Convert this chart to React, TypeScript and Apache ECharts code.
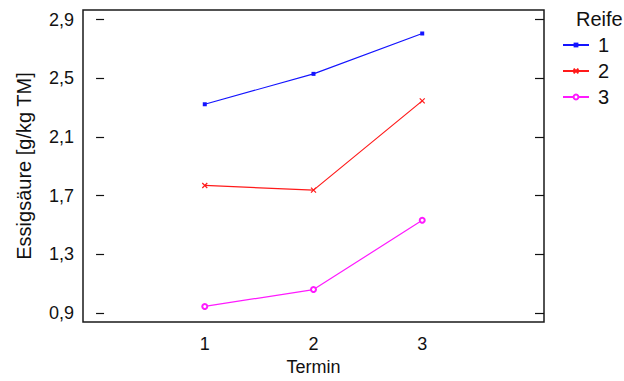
import React, { useEffect, useRef } from "react";
import * as echarts from "echarts";

// Measurement dates (x) and acetic acid content per ripeness group
const termin = [1, 2, 3];
const reife1 = [2.323, 2.53, 2.805];
const reife2 = [1.77, 1.738, 2.346];
const reife3 = [0.946, 1.061, 1.533];
const reifeNames = ["1", "2", "3"];
const yTicks = [0.9, 1.3, 1.7, 2.1, 2.5, 2.9];
const xTicks = [1, 2, 3];

const FONT = "'Liberation Sans', Arial, Helvetica, sans-serif";

const pairs = (ys: number[]) => termin.map((x, i) => [x, ys[i]]);

export default function App() {
  const ref = useRef<HTMLDivElement>(null);

  useEffect(() => {
    if (!ref.current) return;
    const chart = echarts.init(ref.current, null, { renderer: "svg" });
    const yLabel = (v: number) => v.toFixed(1).replace(".", ",");
    const tickStyle = { color: "#111", width: 1.2 };

    chart.setOption({
      animation: false,
      backgroundColor: "#fff",
      textStyle: { fontFamily: FONT },
      grid: {
        left: 83,
        right: 80,
        top: 10,
        bottom: 59,
        show: true,
        borderColor: "#1a1a1a",
        borderWidth: 1.5,
        backgroundColor: "transparent",
      },
      title: {
        text: "Reife",
        left: 576,
        top: 9,
        padding: 0,
        textStyle: { fontFamily: FONT, fontSize: 20, fontWeight: "normal", color: "#111" },
      },
      legend: {
        orient: "vertical",
        left: 562,
        top: 35,
        padding: 0,
        itemWidth: 26,
        itemHeight: 6,
        itemGap: 6,
        textStyle: { fontFamily: FONT, fontSize: 20, color: "#111", padding: [0, 0, 0, 4] },
        data: reifeNames,
      },
      xAxis: {
        type: "value",
        min: -0.12,
        max: 4.12,
        name: "Termin",
        nameLocation: "middle",
        nameGap: 33,
        nameTextStyle: { fontFamily: FONT, fontSize: 18, color: "#111" },
        axisLine: { show: false },
        axisTick: { show: false },
        splitLine: { show: false },
        axisLabel: {
          customValues: xTicks,
          margin: 13,
          fontFamily: FONT,
          fontSize: 18,
          color: "#111",
        },
      },
      yAxis: [
        {
          type: "value",
          min: 0.84,
          max: 2.965,
          name: "Essigsäure [g/kg TM]",
          nameLocation: "middle",
          nameGap: 49,
          nameTextStyle: { fontFamily: FONT, fontSize: 20, color: "#111" },
          axisLine: { show: false },
          splitLine: { show: false },
          axisTick: { show: true, inside: true, length: 8, customValues: yTicks, lineStyle: tickStyle },
          axisLabel: {
            customValues: yTicks,
            margin: 9,
            fontFamily: FONT,
            fontSize: 18,
            color: "#111",
            formatter: yLabel,
          },
        },
        {
          type: "value",
          position: "right",
          min: 0.84,
          max: 2.965,
          axisLine: { show: false },
          splitLine: { show: false },
          axisTick: { show: true, inside: true, length: 9, customValues: yTicks, lineStyle: tickStyle },
          axisLabel: { show: false },
        },
      ],
      series: [
        {
          name: reifeNames[0],
          type: "line",
          data: pairs(reife1),
          symbol: "rect",
          symbolSize: 4,
          lineStyle: { color: "#1414ff", width: 1.2 },
          itemStyle: { color: "#1414ff" },
        },
        {
          name: reifeNames[1],
          type: "line",
          data: pairs(reife2),
          symbol: "path://M0,0L10,10M10,0L0,10",
          symbolSize: 5,
          lineStyle: { color: "#ff1a1a", width: 1.2 },
          itemStyle: { color: "#ff1a1a", borderColor: "#ff1a1a", borderWidth: 1.2 },
        },
        {
          name: reifeNames[2],
          type: "line",
          data: pairs(reife3),
          symbol: "emptyCircle",
          symbolSize: 5,
          lineStyle: { color: "#ff1aff", width: 1.2 },
          itemStyle: { color: "#ff1aff", borderColor: "#ff1aff", borderWidth: 1.2 },
        },
      ],
    });

    return () => chart.dispose();
  }, []);

  return (
    <div
      ref={ref}
      style={{ position: "absolute", left: 0, top: 0, width: 624, height: 381, background: "#fff" }}
    />
  );
}
